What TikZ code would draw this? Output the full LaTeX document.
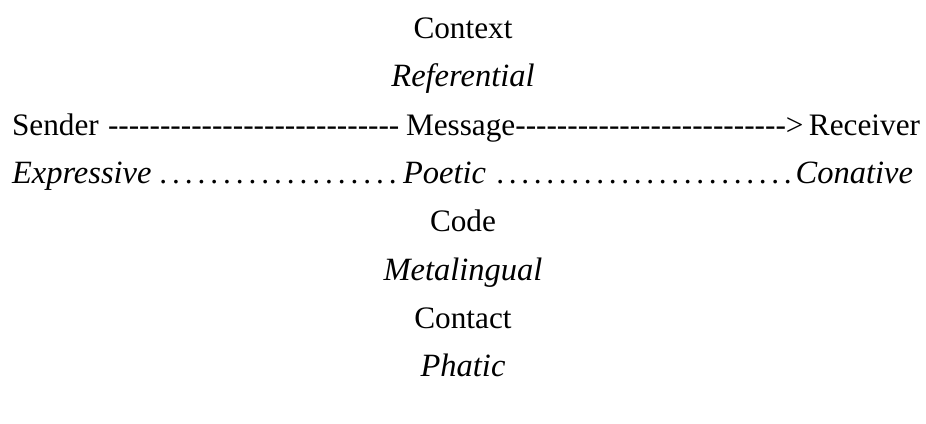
\documentclass[tikz,border=0pt]{standalone}
\usepackage{fontspec}
\setmainfont{Liberation Serif}
\newcommand{\dotrun}[2]{\hbox to #1{\leaders\hbox to #2{\hss.\hss}\hfill}}
\newcommand{\hyrun}[1]{\foreach \i in {1,...,#1}{\mbox{-}}}
\begin{document}
\begin{tikzpicture}[x=0.4pt,y=-0.4pt,
  lbl/.style={inner sep=0pt,outer sep=0pt,font=\fontsize{12.5}{15}\selectfont},
  role/.style={lbl,font=\fontsize{13}{15}\selectfont\itshape}]
\useasboundingbox (0,0) rectangle (926,423);
\node[lbl,anchor=base] (context) at (463,38) {Context};
\node[role,anchor=base] (referential) at (463,86.5) {Referential};
\node[lbl,anchor=base west] (sender) at (12,135) {Sender};
\node[lbl,anchor=base west] (dashA) at (108,135) {\hyrun{28}};
\node[lbl,anchor=base west] (message) at (406,135) {Message};
\node[lbl,anchor=base west] (dashB) at (message.base east) {\hyrun{26}>};
\node[lbl,anchor=base east] (receiver) at (920,135) {Receiver};
\node[role,anchor=base west] (expressive) at (12,183) {Expressive};
\node[lbl,anchor=base west] (dotsA) at (157,183) {\dotrun{97pt}{5.1pt}};
\node[role,anchor=base west] (poetic) at (403,183) {Poetic};
\node[lbl,anchor=base west] (dotsB) at (494,183) {\dotrun{120pt}{5.0pt}};
\node[role,anchor=base east] (conative) at (913,183) {Conative};
\node[lbl,anchor=base] (code) at (463,231.5) {Code};
\node[role,anchor=base] (metalingual) at (463,280) {Metalingual};
\node[lbl,anchor=base] (contact) at (463,328) {Contact};
\node[role,anchor=base] (phatic) at (463,376.5) {Phatic};
\end{tikzpicture}
\end{document}
